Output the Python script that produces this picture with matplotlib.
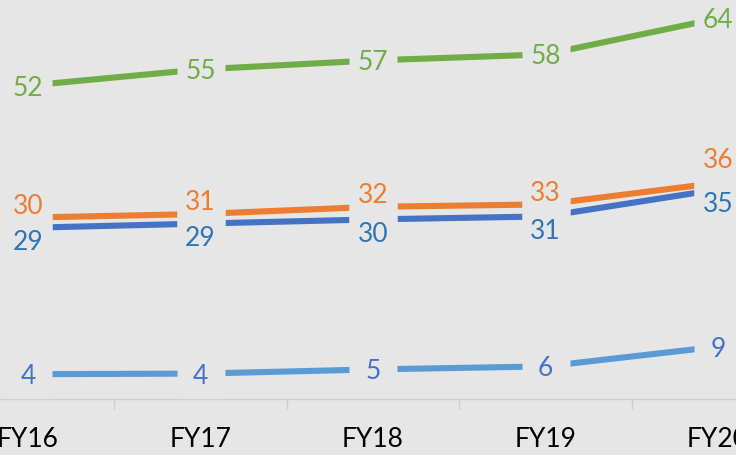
import matplotlib
matplotlib.use("Agg")
import matplotlib.pyplot as plt

categories = ["FY16", "FY17", "FY18", "FY19", "FY20"]
green_vals = [52.4, 55.1, 56.6, 57.6, 63.6]
orange_vals = [30.4, 31.0, 32.2, 32.6, 36.2]
blue_vals = [28.7, 29.4, 30.1, 30.6, 35.1]
lightblue_vals = [4.3, 4.4, 5.1, 5.6, 8.9]

BG = "#E7E6E6"
plt.rcParams['font.family'] = ['Lato', 'DejaVu Sans']

fig = plt.figure(figsize=(7.36, 4.55), dpi=100)
fig.patch.set_facecolor(BG)
ax = fig.add_axes([0, 56 / 455, 1, 399 / 455])
ax.set_facecolor(BG)

x = list(range(len(categories)))

# series: values, line colour, label colour, label offsets (pixels, baseline)
series = [
    (green_vals, "#70AD47", "#70AD47", [-10] * 5),
    (orange_vals, "#ED7D31", "#ED7D31", [4, 4, 4, 3, 15]),
    (blue_vals, "#4472C4", "#2E75B6", [-22.5] * 5),
    (lightblue_vals, "#5B9BD5", "#4472C4", [-10] * 5),
]

for vals, lc, tc, offs in series:
    ax.plot(x, vals, color=lc, lw=4.4, solid_capstyle='butt', zorder=2)
for vals, lc, tc, offs in series:
    ax.plot(x, vals, ls='none', marker='s', markersize=35, mfc=BG, mec='none', zorder=3)
for vals, lc, tc, offs in series:
    for xi, v, o in zip(x, vals, offs):
        ax.annotate(f"{v:.0f}", (xi, v), xytext=(0, o), textcoords='offset pixels',
                    ha='center', va='baseline', fontsize=19, color=tc, zorder=5)

ax.set_xlim(-28 / 172.5, 4 + 18 / 172.5)
ax.set_ylim(1 / 6, 400 / 6)

for s in ['top', 'right', 'left']:
    ax.spines[s].set_visible(False)
ax.spines['bottom'].set_color('#D0CECE')
ax.spines['bottom'].set_linewidth(1.0)

ax.set_yticks([])
ax.set_xticks(x)
ax.set_xticklabels(categories, fontsize=19, color='black')
ax.tick_params(axis='x', which='major', length=0, pad=20)
ax.set_xticks([0.5, 1.5, 2.5, 3.5], minor=True)
ax.tick_params(axis='x', which='minor', length=7.2, width=1, color='#D0CECE')

fig.savefig("out.png", dpi=100, facecolor=BG)
